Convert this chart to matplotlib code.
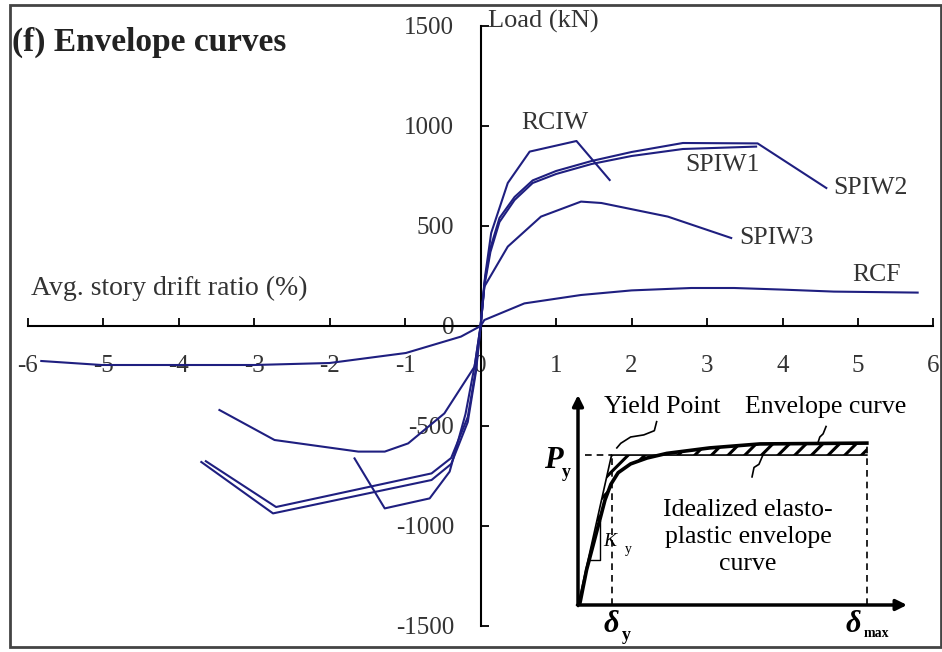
import numpy as np
import matplotlib.pyplot as plt
from matplotlib.patches import Rectangle

plt.rcParams['font.family'] = ['Liberation Serif', 'DejaVu Serif']
plt.rcParams['axes.unicode_minus'] = False
plt.rcParams['hatch.linewidth'] = 2.2

# envelope curves: drift ratio (%) vs load (kN), negative branch then positive branch
rciw_neg_x = [-1.67, -1.27, -0.675, -0.41, -0.2, -0.07, 0]
rciw_neg_y = [-662, -912, -862, -728, -440, -180, 0]
rciw_pos_x = [0, 0.06, 0.14, 0.36, 0.65, 1.27, 1.71]
rciw_pos_y = [0, 250, 465, 715, 872, 925, 730]

spiw1_neg_x = [-3.64, -2.71, -0.65, -0.39, -0.17, -0.06, 0]
spiw1_neg_y = [-676, -905, -737, -660, -455, -210, 0]
spiw1_pos_x = [0, 0.05, 0.13, 0.25, 0.45, 0.69, 1.0, 1.47, 2.0, 2.68, 3.65]
spiw1_pos_y = [0, 200, 370, 520, 630, 715, 760, 810, 850, 885, 897]

spiw2_neg_x = [-3.70, -2.75, -0.65, -0.39, -0.17, -0.06, 0]
spiw2_neg_y = [-680, -937, -770, -690, -480, -225, 0]
spiw2_pos_x = [0, 0.05, 0.13, 0.25, 0.45, 0.69, 1.0, 1.47, 2.0, 2.68, 3.67, 4.58]
spiw2_pos_y = [0, 215, 390, 540, 645, 728, 775, 825, 870, 915, 913, 690]

spiw3_neg_x = [-3.46, -2.73, -1.62, -1.27, -0.96, -0.48, -0.08, 0]
spiw3_neg_y = [-420, -570, -628, -628, -587, -437, -203, 0]
spiw3_pos_x = [0, 0.05, 0.36, 0.80, 1.33, 1.60, 2.48, 3.32]
spiw3_pos_y = [0, 197, 397, 547, 622, 615, 547, 440]

rcf_neg_x = [-5.82, -5.02, -4.0, -3.0, -2.0, -0.99, -0.26, 0]
rcf_neg_y = [-175, -195, -195, -195, -185, -135, -53, 0]
rcf_pos_x = [0, 0.05, 0.58, 1.33, 2.0, 2.79, 3.36, 4.0, 4.68, 5.79]
rcf_pos_y = [0, 30, 113, 155, 178, 190, 190, 182, 172, 167]

curve_names = ['RCIW', 'SPIW1', 'SPIW2', 'SPIW3', 'RCF']
name_x = [0.99, 3.21, 5.17, 3.92, 5.25]
name_y = [1015, 805, 690, 440, 255]

# schematic of envelope idealization (normalised displacement / load)
env_x = [0, 0.006, 0.026, 0.067, 0.082, 0.100, 0.122, 0.160, 0.210, 0.270, 0.400, 0.553, 0.878]
env_y = [0, 0.010, 0.167, 0.410, 0.500, 0.575, 0.630, 0.672, 0.700, 0.722, 0.748, 0.767, 0.771]
delta_y = 0.102
delta_max = 0.878
p_y = 0.714

W, H = 942, 652
fig = plt.figure(figsize=(W / 100, H / 100), dpi=100)
fig.patches.append(Rectangle((10 / W, 5 / H), 931 / W, 642 / H, transform=fig.transFigure,
                             fill=False, lw=2, edgecolor='#444444'))

ax = fig.add_axes([27.7 / W, 26 / H, 905.8 / W, 600 / H])
ax.set_xlim(-6, 6)
ax.set_ylim(-1500, 1500)
ax.patch.set_alpha(0)
for s in ['top', 'right']:
    ax.spines[s].set_visible(False)
ax.spines['left'].set_position(('data', 0))
ax.spines['bottom'].set_position(('data', 0))
for s in ['left', 'bottom']:
    ax.spines[s].set_linewidth(1.5)
ax.set_xticks(range(-6, 7))
ax.set_yticks(range(-1500, 1501, 500))
ax.tick_params(direction='in', length=6, width=1.3, labelsize=18, labelcolor='#333333')
ax.tick_params(axis='x', pad=21)
ax.tick_params(axis='y', pad=19)

navy = '#1f1f80'
for nx, ny, px_, py_ in [(rciw_neg_x, rciw_neg_y, rciw_pos_x, rciw_pos_y),
                         (spiw1_neg_x, spiw1_neg_y, spiw1_pos_x, spiw1_pos_y),
                         (spiw2_neg_x, spiw2_neg_y, spiw2_pos_x, spiw2_pos_y),
                         (spiw3_neg_x, spiw3_neg_y, spiw3_pos_x, spiw3_pos_y),
                         (rcf_neg_x, rcf_neg_y, rcf_pos_x, rcf_pos_y)]:
    ax.plot(nx, ny, color=navy, lw=1.5, zorder=3)
    ax.plot(px_, py_, color=navy, lw=1.5, zorder=3)

for name, tx, ty in zip(curve_names, name_x, name_y):
    ax.text(tx, ty, name, fontsize=18.5, color='#333333', ha='center', va='center')

ax.text(-5.95, 190, 'Avg. story drift ratio (%)', fontsize=20, color='#333333', va='center')
ax.text(0.1, 1525, 'Load (kN)', fontsize=19, color='#333333', va='center', clip_on=False)
fig.text(12 / W, 1 - 42 / H, '(f) Envelope curves', fontsize=24, fontweight='bold',
         color='#222222', va='center')

# inset sketch
ins = fig.add_axes([578 / W, 47 / H, 329 / W, 210 / H])
ins.set_xlim(0, 1)
ins.set_ylim(0, 1)
ins.axis('off')
ins.annotate('', xy=(1, 0), xytext=(0, 0), annotation_clip=False,
             arrowprops=dict(arrowstyle='-|>', lw=2.5, color='black', mutation_scale=16,
                             shrinkA=0, shrinkB=0))
ins.annotate('', xy=(0, 1), xytext=(0, 0), annotation_clip=False,
             arrowprops=dict(arrowstyle='-|>', lw=2.5, color='black', mutation_scale=16,
                             shrinkA=0, shrinkB=0))

ideal_x = [0, delta_y, delta_max]
ideal_y = [0, p_y, p_y]
ins.fill(ideal_x + env_x[::-1], ideal_y + env_y[::-1], facecolor='none',
         edgecolor='black', hatch='//', lw=0)
ins.plot(env_x, env_y, color='black', lw=2.6, clip_on=False)
ins.plot(ideal_x, ideal_y, color='black', lw=1.2)
ins.plot([0.02, delta_y], [p_y, p_y], color='black', lw=1.2, ls=(0, (4, 3)))
ins.plot([delta_y, delta_y], [0, p_y], color='black', lw=1.2, ls=(0, (4, 3)))
ins.plot([delta_max, delta_max], [0, env_y[-1]], color='black', lw=1.2, ls=(0, (4, 3)))
ins.plot([0.036, 0.067, 0.067], [0.214, 0.214, 0.40], color='black', lw=1)

ins.plot([0.239, 0.232, 0.20, 0.16, 0.13, 0.118], [0.873, 0.83, 0.81, 0.80, 0.77, 0.748],
         color='black', lw=1.2)
ins.plot([0.754, 0.745, 0.735, 0.729], [0.85, 0.815, 0.80, 0.771], color='black', lw=1.2)
ins.plot([0.562, 0.55, 0.535, 0.529], [0.714, 0.67, 0.655, 0.61], color='black', lw=1.2)

ins.text(0.255, 0.943, 'Yield Point', fontsize=18.5, ha='center', va='center')
ins.text(0.754, 0.943, 'Envelope curve', fontsize=18.5, ha='center', va='center')
ins.text(0.517, 0.324, 'Idealized elasto-\nplastic envelope\ncurve', fontsize=18.5,
         ha='center', va='center', linespacing=1.3)
ins.text(-0.075, 0.69, 'P', fontsize=22, fontweight='bold', style='italic',
         ha='center', va='center', clip_on=False)
ins.text(-0.035, 0.63, 'y', fontsize=13, fontweight='bold', ha='center', va='center',
         clip_on=False)
ins.text(0.10, -0.095, 'δ', fontsize=22, fontweight='bold', style='italic',
         ha='center', va='center', clip_on=False)
ins.text(0.148, -0.145, 'y', fontsize=13, fontweight='bold', ha='center', va='center',
         clip_on=False)
ins.text(0.837, -0.095, 'δ', fontsize=22, fontweight='bold', style='italic',
         ha='center', va='center', clip_on=False)
ins.text(0.908, -0.135, 'max', fontsize=10, fontweight='bold', ha='center', va='center',
         clip_on=False)
ins.text(0.097, 0.301, 'K', fontsize=14, style='italic', ha='center', va='center')
ins.text(0.152, 0.262, 'y', fontsize=10, ha='center', va='center')

fig.savefig('out.png', dpi=100)
